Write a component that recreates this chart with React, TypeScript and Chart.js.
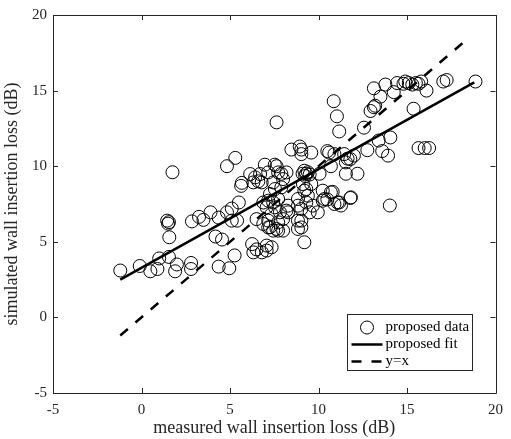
import React, { useEffect, useRef } from "react";
import { Chart, registerables } from "chart.js";

Chart.register(...registerables);

const xTicks = [-5, 0, 5, 10, 15, 20];
const yTicks = [-5, 0, 5, 10, 15, 20];

const measured = [
  -1.2, -0.1, 0.5, 0.9, 1.0, 1.55, 1.9, 2.0, 2.8, 2.8,
  1.75, 1.45, 1.5, 1.55, 1.57, 2.85, 3.25, 3.5, 3.9, 4.36, 4.18, 4.55, 4.36, 4.96, 5.26, 4.83, 5.1, 5.1, 5.4, 5.5, 5.63, 4.83, 5.3, 5.67,
  6.25, 6.5, 6.32, 7.07, 7.35, 6.8, 7.07, 9.2, 9.03, 9.03, 8.84, 7.72, 7.44, 7.82, 7.35, 7.26, 7.63, 7.72, 6.88, 7.16, 8.0, 8.0, 8.84, 6.5, 7.16,
  6.14, 6.42, 6.7, 6.32, 6.79, 7.16, 7.63, 7.72, 7.44, 8.0, 8.19, 8.47, 8.94, 9.03, 9.59, 6.97, 7.53, 7.9,
  9.1, 9.2, 9.3, 9.4, 9.25, 9.5,
  10.06, 10.6, 7.54, 7.9, 7.26, 6.88, 7.16, 7.44, 7.72, 7.07, 7.54, 8.19, 8.28, 8.84, 9.4, 9.31, 9.03, 9.5, 9.12, 9.31, 9.59, 10.24, 10.7, 9.68, 9.96, 10.24, 10.9, 8.84, 8.28, 9.2, 10.33, 9.03, 6.6,
  7.63,
  10.5, 10.9, 10.7, 11.45, 11.64, 11.55, 11.8, 12.0, 11.55, 12.2, 12.76, 13.6, 13.93, 14.06, 15.65, 16.0, 16.25, 10.8, 11.08, 11.27, 11.8, 10.5, 14.03, 11.17, 11.83, 13.4,
  10.86, 11.04, 11.17, 12.57, 12.94, 13.13, 13.13, 13.5, 13.78, 14.25, 14.44, 14.8, 15.1, 15.3, 15.5, 15.8, 16.1, 15.37, 17.05, 17.24, 18.87, 13.2, 14.9, 15.65,
];

const simulated = [
  3.1, 3.4, 3.05, 3.2, 3.9, 4.0, 3.05, 3.5, 3.6, 3.2,
  9.6, 6.4, 6.2, 6.3, 5.3, 6.35, 6.65, 6.45, 6.95, 6.6, 5.35, 5.15, 3.36, 3.25, 4.1, 6.95, 7.2, 6.4, 6.4, 7.6, 8.7, 10.0, 10.55, 8.9,
  4.85, 4.5, 4.3, 4.42, 4.64, 4.3, 4.75, 4.97, 5.95, 6.4, 5.85, 5.74, 5.74, 6.95, 6.84, 5.96, 5.85, 6.29, 6.18, 6.4, 6.5, 5.74, 6.4, 6.5, 5.95,
  9.48, 9.26, 9.48, 8.93, 8.93, 9.59, 10.0, 9.59, 8.93, 9.15, 9.59, 11.1, 11.3, 10.8, 10.9, 10.1, 10.1, 9.5,
  9.5, 9.7, 9.5, 9.6, 9.35, 9.45,
  9.5, 10.9, 8.49, 8.6, 8.16, 7.6, 7.72, 7.6, 7.83, 7.28, 7.28, 7.06, 6.95, 7.83, 8.05, 7.6, 7.17, 6.95, 8.82, 8.49, 8.82, 8.38, 8.27, 7.39, 6.95, 7.72, 7.5, 7.39, 7.39, 8.38, 7.83, 11.1, 9.0,
  12.9,
  11.0, 10.8, 10.0, 10.8, 10.5, 10.25, 10.47, 10.7, 9.5, 9.5, 11.06, 11.0, 10.7, 11.9, 11.2, 11.2, 11.2, 8.3, 7.6, 7.4, 7.9, 7.8, 7.4, 7.6, 7.94, 11.7,
  14.3, 13.3, 12.3, 12.55, 13.65, 13.9, 15.15, 14.6, 15.4, 14.9, 15.5, 15.45, 15.5, 15.4, 15.5, 15.6, 15.0, 13.8, 15.6, 15.7, 15.6, 14.0, 15.6, 15.45,
];

const fitX = [-1.2, 18.8];
const fitY = [2.5, 15.55];
const identityX = [-1.2, 18.5];
const identityY = [-1.2, 18.5];

const legendLabels = ["proposed data", "proposed fit", "y=x"];

const FONT = "'Liberation Serif', 'Times New Roman', serif";
const AXIS = "#262626";

const boxPlugin = {
  id: "matlabBox",
  afterDraw(chart: any) {
    const { ctx, chartArea } = chart;
    const { left, right, top, bottom } = chartArea;
    const xs = chart.scales.x;
    const ys = chart.scales.y;
    ctx.save();
    ctx.strokeStyle = AXIS;
    ctx.lineWidth = 1;
    ctx.beginPath();
    ctx.rect(Math.round(left) + 0.5, Math.round(top) + 0.5, Math.round(right - left), Math.round(bottom - top));
    ctx.stroke();
    const tl = 5;
    ctx.beginPath();
    xTicks.forEach((v) => {
      const px = Math.round(xs.getPixelForValue(v)) + 0.5;
      ctx.moveTo(px, bottom);
      ctx.lineTo(px, bottom - tl);
      ctx.moveTo(px, top);
      ctx.lineTo(px, top + tl);
    });
    yTicks.forEach((v) => {
      const py = Math.round(ys.getPixelForValue(v)) + 0.5;
      ctx.moveTo(left, py);
      ctx.lineTo(left + tl, py);
      ctx.moveTo(right, py);
      ctx.lineTo(right - tl, py);
    });
    ctx.stroke();

    // legend
    const bw = 125;
    const bh = 56;
    const bx = Math.round(right - 24 - bw) + 0.5;
    const by = Math.round(bottom - 23 - bh) + 0.5;
    ctx.fillStyle = "#ffffff";
    ctx.fillRect(bx, by, bw, bh);
    ctx.strokeStyle = AXIS;
    ctx.lineWidth = 1;
    ctx.strokeRect(bx, by, bw, bh);
    const rows = [by + 13, by + 30, by + 47];
    const sx0 = bx + 4;
    const sx1 = bx + 35;
    const tx = bx + 38;
    ctx.strokeStyle = "#000";
    ctx.lineWidth = 1;
    ctx.beginPath();
    ctx.arc((sx0 + sx1) / 2, rows[0], 6.5, 0, Math.PI * 2);
    ctx.stroke();
    ctx.lineWidth = 2.5;
    ctx.beginPath();
    ctx.moveTo(sx0, rows[1]);
    ctx.lineTo(sx1, rows[1]);
    ctx.stroke();
    ctx.setLineDash([10, 10]);
    ctx.beginPath();
    ctx.moveTo(sx0, rows[2]);
    ctx.lineTo(sx1, rows[2]);
    ctx.stroke();
    ctx.setLineDash([]);
    ctx.fillStyle = "#000";
    ctx.font = "15px " + FONT;
    ctx.textBaseline = "middle";
    ctx.textAlign = "left";
    legendLabels.forEach((t, i) => ctx.fillText(t, tx, rows[i]));
    ctx.restore();
  },
};

export default function App() {
  const ref = useRef<HTMLCanvasElement>(null);

  useEffect(() => {
    if (!ref.current) return;
    const points = measured.map((x, i) => ({ x, y: simulated[i] }));
    const fit = fitX.map((x, i) => ({ x, y: fitY[i] }));
    const ident = identityX.map((x, i) => ({ x, y: identityY[i] }));
    const chart = new Chart(ref.current, {
      type: "scatter",
      data: {
        datasets: [
          {
            label: legendLabels[0],
            data: points,
            pointStyle: "circle",
            pointRadius: 6.5,
            pointBorderWidth: 1,
            borderColor: "#000",
            backgroundColor: "rgba(0,0,0,0)",
            showLine: false,
            order: 3,
          },
          {
            label: legendLabels[1],
            data: fit,
            showLine: true,
            borderColor: "#000",
            borderWidth: 2.5,
            pointRadius: 0,
            order: 2,
          },
          {
            label: legendLabels[2],
            data: ident,
            showLine: true,
            borderColor: "#000",
            borderWidth: 2.5,
            borderDash: [10, 10],
            pointRadius: 0,
            order: 1,
          },
        ],
      },
      options: {
        responsive: false,
        animation: false,
        devicePixelRatio: 1,
        layout: { padding: { left: 0, right: 11, top: 14, bottom: 0 } },
        plugins: { legend: { display: false }, tooltip: { enabled: false } },
        scales: {
          x: {
            type: "linear",
            min: -5,
            max: 20,
            afterBuildTicks: (s: any) => {
              s.ticks = xTicks.map((v) => ({ value: v }));
            },
            afterFit: (s: any) => {
              s.height = 46;
            },
            grid: { display: false, drawTicks: false },
            border: { display: false },
            ticks: { color: AXIS, font: { family: FONT, size: 15 }, padding: 8, maxRotation: 0 },
            title: {
              display: true,
              text: "measured wall insertion loss (dB)",
              color: AXIS,
              font: { family: FONT, size: 18 },
              padding: { top: 0, bottom: 0 },
            },
          },
          y: {
            type: "linear",
            min: -5,
            max: 20,
            afterBuildTicks: (s: any) => {
              s.ticks = yTicks.map((v) => ({ value: v }));
            },
            afterFit: (s: any) => {
              s.width = 53;
            },
            grid: { display: false, drawTicks: false },
            border: { display: false },
            ticks: { color: AXIS, font: { family: FONT, size: 15 }, padding: 6 },
            title: {
              display: true,
              text: "simulated wall insertion loss (dB)",
              color: AXIS,
              font: { family: FONT, size: 18 },
              padding: { top: 1, bottom: 0 },
            },
          },
        },
      },
      plugins: [boxPlugin],
    });
    return () => chart.destroy();
  }, []);

  return (
    <div style={{ position: "absolute", left: 0, top: 0, width: 511, height: 439, background: "#fff" }}>
      <canvas ref={ref} width={511} height={439} style={{ width: 511, height: 439, display: "block" }} />
    </div>
  );
}
